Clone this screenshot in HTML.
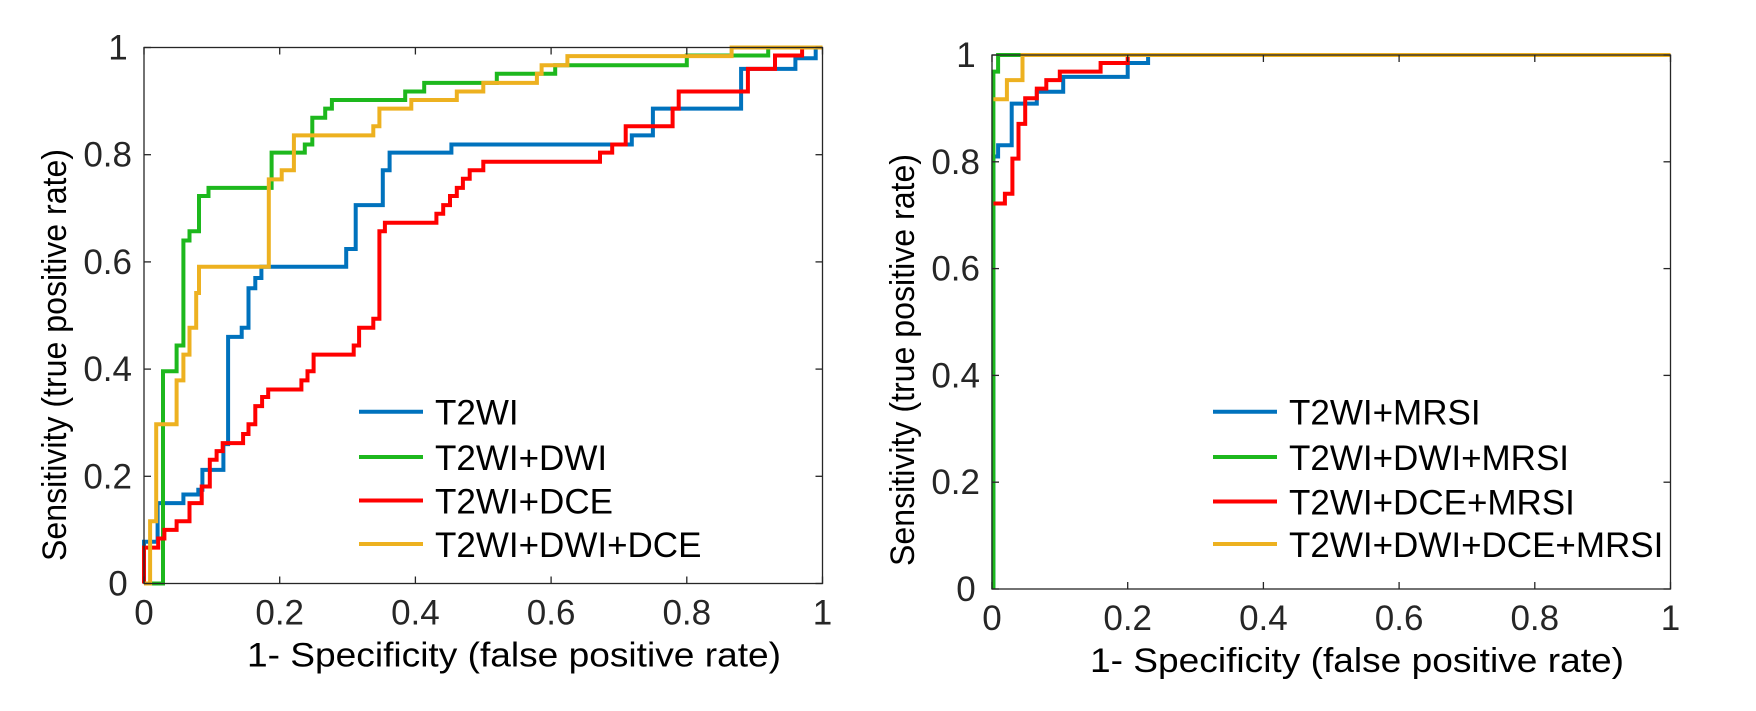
<!DOCTYPE html>
<html><head><meta charset="utf-8"><style>
html,body{margin:0;padding:0;background:#fff;}
svg{display:block;font-family:"Liberation Sans",Arial,sans-serif;}
</style></head><body>
<svg id="chart" width="1756" height="711" viewBox="0 0 1756 711" xmlns="http://www.w3.org/2000/svg"></svg>
<script>
// ---------- data ----------
const xTicks = [0, 0.2, 0.4, 0.6, 0.8, 1];
const yTicks = [0, 0.2, 0.4, 0.6, 0.8, 1];
const xTickLabels = ["0", "0.2", "0.4", "0.6", "0.8", "1"];
const yTickLabels = ["0", "0.2", "0.4", "0.6", "0.8", "1"];
const leftNames = ["T2WI", "T2WI+DWI", "T2WI+DCE", "T2WI+DWI+DCE"];
const rightNames = ["T2WI+MRSI", "T2WI+DWI+MRSI", "T2WI+DCE+MRSI", "T2WI+DWI+DCE+MRSI"];

const t2wiFpr = [0,0,0.02,0.02,0.058,0.058,0.08,0.08,0.086,0.086,0.117,0.117,0.124,0.124,0.144,0.144,0.154,0.154,0.164,0.164,0.173,0.173,0.298,0.298,0.312,0.312,0.352,0.352,0.362,0.362,0.453,0.453,0.719,0.719,0.75,0.75,0.88,0.88,0.96,0.96,0.99,0.99,1];
const t2wiTpr = [0,0.078,0.078,0.15,0.15,0.166,0.166,0.175,0.175,0.212,0.212,0.26,0.26,0.46,0.46,0.477,0.477,0.551,0.551,0.57,0.57,0.591,0.591,0.624,0.624,0.706,0.706,0.771,0.771,0.804,0.804,0.819,0.819,0.836,0.836,0.886,0.886,0.96,0.96,0.98,0.98,1,1];

const dwiFpr = [0,0.028,0.028,0.048,0.048,0.058,0.058,0.067,0.067,0.081,0.081,0.095,0.095,0.188,0.188,0.237,0.237,0.248,0.248,0.267,0.267,0.277,0.277,0.385,0.385,0.413,0.413,0.52,0.52,0.606,0.606,0.80,0.80,0.92,0.92,1,1];
const dwiTpr = [0,0,0.396,0.396,0.444,0.444,0.640,0.640,0.657,0.657,0.723,0.723,0.738,0.738,0.804,0.804,0.819,0.819,0.869,0.869,0.886,0.886,0.902,0.902,0.918,0.918,0.934,0.934,0.951,0.951,0.967,0.967,0.985,0.985,1];

const dceFpr = [0,0,0.021,0.021,0.03,0.03,0.048,0.048,0.067,0.067,0.085,0.085,0.097,0.097,0.107,0.107,0.116,0.116,0.146,0.146,0.154,0.154,0.164,0.164,0.174,0.174,0.183,0.183,0.232,0.232,0.241,0.241,0.25,0.25,0.309,0.309,0.317,0.317,0.338,0.338,0.347,0.347,0.355,0.355,0.431,0.431,0.441,0.441,0.451,0.451,0.461,0.461,0.47,0.47,0.48,0.48,0.50,0.50,0.672,0.672,0.69,0.69,0.71,0.71,0.779,0.779,0.788,0.788,0.89,0.89,0.93,0.93,0.97,0.97,1];
const dceTpr = [0,0.067,0.067,0.084,0.084,0.1,0.1,0.116,0.116,0.15,0.15,0.181,0.181,0.231,0.231,0.247,0.247,0.262,0.262,0.279,0.279,0.297,0.297,0.331,0.331,0.348,0.348,0.362,0.362,0.379,0.379,0.396,0.396,0.427,0.427,0.444,0.444,0.477,0.477,0.494,0.494,0.657,0.657,0.673,0.673,0.69,0.69,0.706,0.706,0.723,0.723,0.738,0.738,0.755,0.755,0.771,0.771,0.787,0.787,0.804,0.804,0.819,0.819,0.853,0.853,0.886,0.886,0.918,0.918,0.96,0.96,0.985,0.985,1,1];

const dwiDceFpr = [0,0.009,0.009,0.018,0.018,0.048,0.048,0.058,0.058,0.067,0.067,0.077,0.077,0.081,0.081,0.184,0.184,0.203,0.203,0.221,0.221,0.338,0.338,0.347,0.347,0.394,0.394,0.461,0.461,0.5,0.5,0.579,0.579,0.586,0.586,0.624,0.624,0.866,0.866,1];
const dwiDceTpr = [0,0,0.116,0.116,0.297,0.297,0.379,0.379,0.427,0.427,0.477,0.477,0.542,0.542,0.591,0.591,0.754,0.754,0.771,0.771,0.836,0.836,0.853,0.853,0.886,0.886,0.902,0.902,0.918,0.918,0.934,0.934,0.951,0.951,0.967,0.967,0.984,0.984,1,1];

const mrsiFpr = [0.002,0.002,0.009,0.009,0.029,0.029,0.066,0.066,0.105,0.105,0.2,0.2,0.23,0.23,1];
const mrsiTpr = [0,0.81,0.81,0.831,0.831,0.909,0.909,0.931,0.931,0.959,0.959,0.985,0.985,1,1];

const dwiMrsiFpr = [0.002,0.002,0.009,0.009,1];
const dwiMrsiTpr = [0,0.969,0.969,1,1];

const dceMrsiFpr = [0.002,0.002,0.019,0.019,0.03,0.03,0.039,0.039,0.049,0.049,0.066,0.066,0.08,0.08,0.1,0.1,0.16,0.16,0.2,0.2,1];
const dceMrsiTpr = [0.722,0.722,0.722,0.74,0.74,0.806,0.806,0.871,0.871,0.919,0.919,0.937,0.937,0.953,0.953,0.969,0.969,0.985,0.985,1,1];

const allMrsiFpr = [0.002,0.022,0.022,0.045,0.045,1];
const allMrsiTpr = [0.917,0.917,0.953,0.953,1,1];

const colors = ["#0072BD", "#1DB81D", "#FF0000", "#EDB120"];

// ---------- drawing ----------
const NS = "http://www.w3.org/2000/svg";
const svg = document.getElementById("chart");
function mk(tag, attrs, parent) {
  const e = document.createElementNS(NS, tag);
  for (const k in attrs) e.setAttribute(k, attrs[k]);
  (parent || svg).appendChild(e);
  return e;
}

function drawPanel(p) {
  const g = mk("g", {});
  
  
  const sx = v => p.x0 + v * (p.x1 - p.x0);
  const sy = v => p.y0 - v * (p.y0 - p.y1);

  p.series.forEach((s, i) => {
    const pts = s.fpr.map((f, j) => sx(f).toFixed(1) + "," + sy(s.tpr[j]).toFixed(1)).join(" ");
    const pl = mk("polyline", {points: pts, fill: "none", stroke: colors[i], "stroke-width": 4, "stroke-linejoin": "miter"}, g);
    
    
  });

  const box = mk("rect", {x: p.x0, y: p.y1, width: p.x1 - p.x0, height: p.y0 - p.y1, fill: "none", stroke: "#262626", "stroke-width": 1.3}, g);
  
  

  xTicks.forEach((t, i) => {
    const x = sx(t);
    mk("line", {x1: x, x2: x, y1: p.y0, y2: p.y0 - 7, stroke: "#262626", "stroke-width": 1.3}, g);
    mk("line", {x1: x, x2: x, y1: p.y1, y2: p.y1 + 7, stroke: "#262626", "stroke-width": 1.3}, g);
    const tx = mk("text", {x: x, y: p.y0 + 41, "font-size": 35, "text-anchor": "middle", fill: "#262626"}, g);
    tx.textContent = xTickLabels[i];
    
    
  });
  yTicks.forEach((t, i) => {
    const y = sy(t);
    mk("line", {x1: p.x0, x2: p.x0 + 7, y1: y, y2: y, stroke: "#262626", "stroke-width": 1.3}, g);
    mk("line", {x1: p.x1, x2: p.x1 - 7, y1: y, y2: y, stroke: "#262626", "stroke-width": 1.3}, g);
    const lab = yTickLabels[i];
    const short = lab.length === 1;
    const ty = mk("text", {x: short ? p.x0 - 26 : p.x0 - 12, y: y + 12, "font-size": 35, "text-anchor": short ? "middle" : "end", fill: "#262626"}, g);
    ty.textContent = lab;
    
    
  });

  const xt = mk("text", {x: p.xTitleX, y: p.y0 + 83, "font-size": 34, "text-anchor": "middle", textLength: 534, lengthAdjust: "spacingAndGlyphs", fill: "#000"}, g);
  xt.textContent = "1- Specificity (false positive rate)";
  
  
  const yx = p.x0 - 78, yy = p.yTitleY;
  const yt = mk("text", {x: yx, y: yy, "font-size": 34, "text-anchor": "middle", textLength: 412, lengthAdjust: "spacingAndGlyphs", transform: "rotate(-90 " + yx + " " + yy + ")", fill: "#000"}, g);
  yt.textContent = "Sensitivity (true positive rate)";
  
  

  const lg = mk("g", {}, g);
  
  
  p.series.forEach((s, i) => {
    const y = p.legY[i];
    const e = mk("g", {}, lg);
    
    
    mk("line", {x1: p.legX, x2: p.legX + 64, y1: y, y2: y, stroke: colors[i], "stroke-width": 4}, e);
    const t = mk("text", {x: p.legX + 76, y: y + 13, "font-size": 35, fill: "#000"}, e);
    t.textContent = s.label;
  });
}

drawPanel({
  name: "left-roc-panel", x0: 144, x1: 822.5, y0: 583.5, y1: 47.5,
  xTitleX: 514, yTitleY: 355,
  legX: 359, legY: [411.7, 457, 500.5, 544],
  series: [
    {label: leftNames[0], fpr: t2wiFpr, tpr: t2wiTpr},
    {label: leftNames[1], fpr: dwiFpr, tpr: dwiTpr},
    {label: leftNames[2], fpr: dceFpr, tpr: dceTpr},
    {label: leftNames[3], fpr: dwiDceFpr, tpr: dwiDceTpr}
  ]
});
drawPanel({
  name: "right-roc-panel", x0: 992, x1: 1670.5, y0: 589, y1: 55,
  xTitleX: 1357, yTitleY: 360,
  legX: 1213, legY: [411.7, 457, 501.5, 544],
  series: [
    {label: rightNames[0], fpr: mrsiFpr, tpr: mrsiTpr},
    {label: rightNames[1], fpr: dwiMrsiFpr, tpr: dwiMrsiTpr},
    {label: rightNames[2], fpr: dceMrsiFpr, tpr: dceMrsiTpr},
    {label: rightNames[3], fpr: allMrsiFpr, tpr: allMrsiTpr}
  ]
});
</script>
</body></html>
